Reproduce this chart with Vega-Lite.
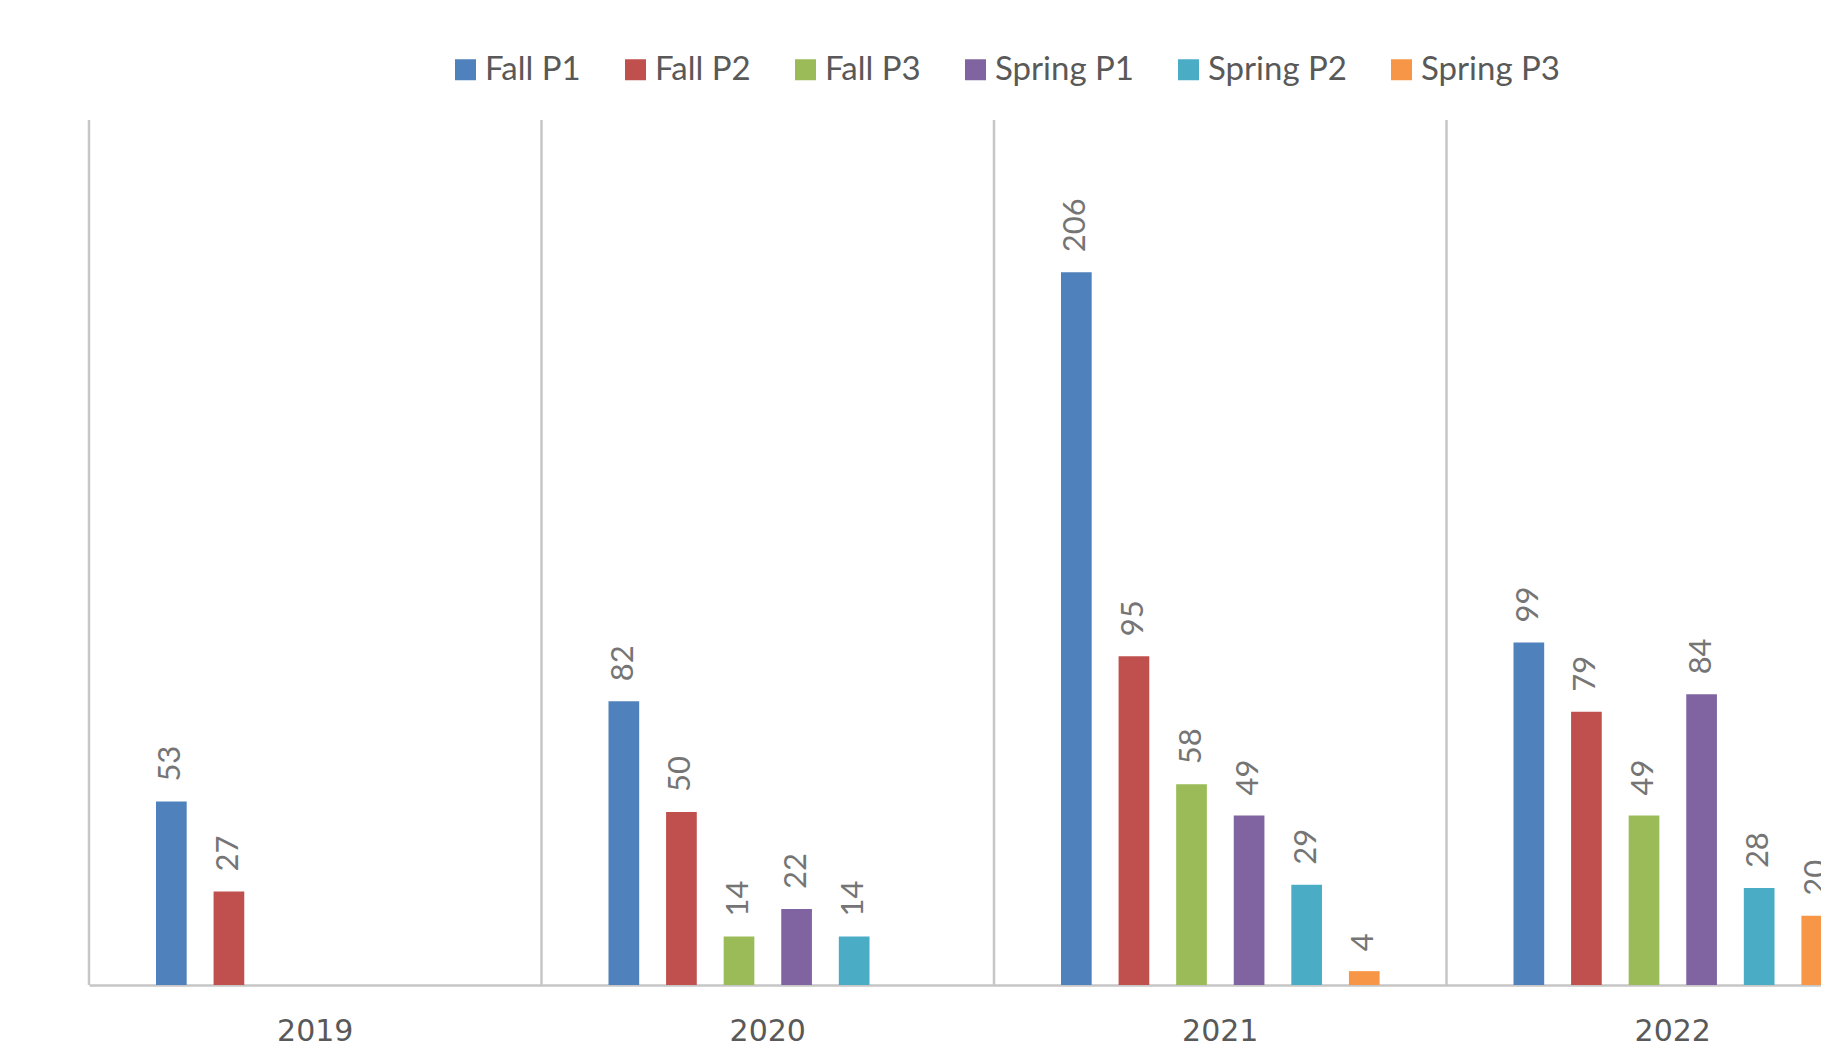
{
  "$schema": "https://vega.github.io/schema/vega-lite/v6.json",
  "autosize": {"type": "none"},
  "width": 1732,
  "height": 865,
  "padding": {"left": 89, "top": 120, "right": 0, "bottom": 62},
  "background": "white",
  "config": {
    "view": {"stroke": null},
    "font": "Lato"
  },
  "data": {
    "values": [
      {"year": "2019", "series": "Fall P1", "value": 53},
      {"year": "2019", "series": "Fall P2", "value": 27},
      {"year": "2020", "series": "Fall P1", "value": 82},
      {"year": "2020", "series": "Fall P2", "value": 50},
      {"year": "2020", "series": "Fall P3", "value": 14},
      {"year": "2020", "series": "Spring P1", "value": 22},
      {"year": "2020", "series": "Spring P2", "value": 14},
      {"year": "2021", "series": "Fall P1", "value": 206},
      {"year": "2021", "series": "Fall P2", "value": 95},
      {"year": "2021", "series": "Fall P3", "value": 58},
      {"year": "2021", "series": "Spring P1", "value": 49},
      {"year": "2021", "series": "Spring P2", "value": 29},
      {"year": "2021", "series": "Spring P3", "value": 4},
      {"year": "2022", "series": "Fall P1", "value": 99},
      {"year": "2022", "series": "Fall P2", "value": 79},
      {"year": "2022", "series": "Fall P3", "value": 49},
      {"year": "2022", "series": "Spring P1", "value": 84},
      {"year": "2022", "series": "Spring P2", "value": 28},
      {"year": "2022", "series": "Spring P3", "value": 20}
    ]
  },
  "layer": [
    {
      "data": {"values": [{"year": "2019"}, {"year": "2020"}, {"year": "2021"}, {"year": "2022"}]},
      "mark": {"type": "rule", "color": "#c6c6c6", "strokeWidth": 2.5},
      "encoding": {
        "x": {"field": "year", "type": "nominal", "bandPosition": 0}
      }
    },
    {
      "mark": {"type": "bar"},
      "encoding": {
        "x": {
          "field": "year", "type": "nominal",
          "scale": {"domain": ["2019", "2020", "2021", "2022"], "range": [0, 1810], "paddingInner": 0, "paddingOuter": 0},
          "axis": {
            "title": null, "labelAngle": 0, "labelAlign": "center", "labelBaseline": "top",
            "ticks": false, "tickSize": 0,
            "domainColor": "#c6c6c6", "domainWidth": 2.5,
            "labelFont": "DejaVu Sans", "labelFontSize": 30, "labelColor": "#595959",
            "labelPadding": 31, "grid": false
          }
        },
        "xOffset": {
          "field": "series", "type": "nominal",
          "scale": {"domain": ["Fall P1", "Fall P2", "Fall P3", "Spring P1", "Spring P2", "Spring P3"], "range": [67, 385.6], "paddingInner": 0.467, "paddingOuter": 0}
        },
        "y": {
          "field": "value", "type": "quantitative",
          "scale": {"domain": [0, 250], "nice": false},
          "axis": null
        },
        "color": {
          "field": "series", "type": "nominal",
          "scale": {
            "domain": ["Fall P1", "Fall P2", "Fall P3", "Spring P1", "Spring P2", "Spring P3"],
            "range": ["#4F81BD", "#C0504D", "#9BBB59", "#8064A2", "#4BACC6", "#F79646"]
          },
          "legend": {
            "title": null, "orient": "none", "direction": "horizontal",
            "legendX": 360, "legendY": -67,
            "symbolType": "square", "symbolSize": 441, "symbolStrokeWidth": 0, "symbolOpacity": 1,
            "labelFont": "Lato", "labelFontSize": 33, "labelColor": "#595959",
            "labelOffset": 3, "columnPadding": 38, "padding": 0, "labelLimit": 400
          }
        }
      }
    },
    {
      "mark": {"type": "text", "angle": 270, "align": "left", "baseline": "middle", "dx": 20, "fontSize": 31, "font": "Lato", "color": "#757575"},
      "encoding": {
        "x": {"field": "year", "type": "nominal"},
        "xOffset": {"field": "series", "type": "nominal"},
        "y": {"field": "value", "type": "quantitative"},
        "text": {"field": "value", "type": "quantitative"}
      }
    }
  ]
}
